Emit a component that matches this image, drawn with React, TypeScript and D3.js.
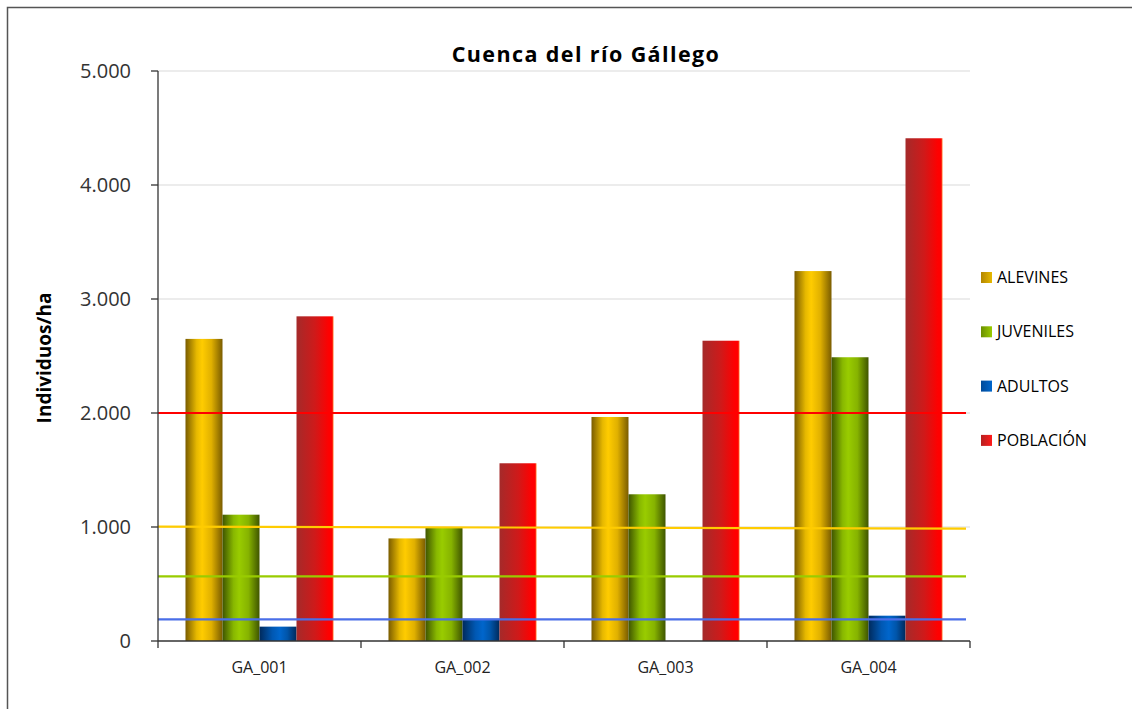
import React from "react";
import * as d3 from "d3";

const categories = ["GA_001", "GA_002", "GA_003", "GA_004"];
const seriesNames = ["ALEVINES", "JUVENILES", "ADULTOS", "POBLACIÓN"];
const alevines = [2650, 900, 1965, 3245];
const juveniles = [1108, 991, 1287, 2489];
const adultos = [126, 195, 0, 222];
const poblacion = [2848, 1559, 2634, 4410];
const yTicks = [0, 1000, 2000, 3000, 4000, 5000];
// reference lines: [startValue, endValue]
const refPoblacion = [2000, 2000];
const refAlevines = [1003, 986];
const refJuveniles = [567, 567];
const refAdultos = [190, 190];

const W = 1132, H = 709;
const left = 158, right = 970, top = 71, bottom = 641;

const gradStops: Record<string, [string, string][]> = {
  gAlev: [["0%", "#7a5c00"], ["30%", "#e6b800"], ["45%", "#ffcc00"], ["70%", "#e0b000"], ["100%", "#7a5c00"]],
  gJuv: [["0%", "#3f5500"], ["30%", "#88b800"], ["45%", "#99cc00"], ["70%", "#86b300"], ["100%", "#3f5500"]],
  gAdu: [["0%", "#002a5c"], ["35%", "#0058b3"], ["55%", "#0066cc"], ["75%", "#0055aa"], ["100%", "#002a5c"]],
  gPob: [["0%", "#a52a2a"], ["50%", "#cf1a1a"], ["88%", "#ff0000"], ["96%", "#ff0000"], ["100%", "#ff7a30"]],
};
const gradIds = ["gAlev", "gJuv", "gAdu", "gPob"];
const legendGrad: Record<string, [string, string][]> = {
  lAlev: [["0%", "#b38600"], ["100%", "#e6b800"]],
  lJuv: [["0%", "#6b8f00"], ["100%", "#99cc00"]],
  lAdu: [["0%", "#004a99"], ["100%", "#0066cc"]],
  lPob: [["0%", "#b52020"], ["100%", "#ff1a1a"]],
};
const legendIds = ["lAlev", "lJuv", "lAdu", "lPob"];

export default function App() {
  const y = d3.scaleLinear().domain([0, 5000]).range([bottom, top]);
  const x0 = d3.scaleBand().domain(categories).range([left, right]).paddingInner(0).paddingOuter(0);
  const x1 = d3.scaleBand().domain(seriesNames).range([0, x0.bandwidth()]).paddingInner(0).paddingOuter(0.743);
  const series = [alevines, juveniles, adultos, poblacion];
  const refs: [number[], string][] = [
    [refPoblacion, "#ff0000"],
    [refAlevines, "#ffcc00"],
    [refJuveniles, "#99cc00"],
    [refAdultos, "#4a6ee8"],
  ];
  const font = "'Open Sans', sans-serif";
  return (
    <svg width={W} height={H} style={{ position: "absolute", left: 0, top: 0 }} fontFamily={font}>
      <defs>
        {Object.entries(gradStops).map(([id, stops]) => (
          <linearGradient key={id} id={id} x1="0" x2="1" y1="0" y2="0">
            {stops.map(([o, c], i) => <stop key={i} offset={o} stopColor={c} />)}
          </linearGradient>
        ))}
        {Object.entries(legendGrad).map(([id, stops]) => (
          <linearGradient key={id} id={id} x1="0" x2="1" y1="0" y2="0">
            {stops.map(([o, c], i) => <stop key={i} offset={o} stopColor={c} />)}
          </linearGradient>
        ))}
      </defs>
      <rect x={0} y={0} width={W} height={H} fill="#fff" />
      <rect x={7.5} y={7.5} width={1300} height={900} fill="none" stroke="#555" strokeWidth={1.5} />
      <text x={586} y={62} textAnchor="middle" fontSize={21.5} fontWeight="bold" letterSpacing={1.4} fill="#000">Cuenca del río Gállego</text>
      {/* gridlines */}
      {yTicks.filter(t => t > 0).map(t => (
        <line key={t} x1={left} x2={right} y1={y(t)} y2={y(t)} stroke="#d9d9d9" strokeWidth={1} />
      ))}
      {/* bars */}
      {categories.map((c, ci) => (
        <g key={c}>
          {series.map((s, si) => s[ci] > 0 ? (
            <rect key={si} x={x0(c)! + x1(seriesNames[si])!} y={y(s[ci])} width={x1.bandwidth()} height={bottom - y(s[ci])} fill={`url(#${gradIds[si]})`} />
          ) : null)}
        </g>
      ))}
      {/* reference lines */}
      {refs.map(([v, col], i) => (
        <line key={i} x1={left} x2={right - 4} y1={y(v[0])} y2={y(v[1])} stroke={col} strokeWidth={2.2} />
      ))}
      {/* axes */}
      <line x1={left} x2={left} y1={top} y2={bottom} stroke="#333" strokeWidth={1.3} />
      {yTicks.map(t => (
        <g key={t}>
          <line x1={left - 7} x2={left} y1={y(t)} y2={y(t)} stroke="#333" strokeWidth={1.3} />
          <text x={131} y={y(t) + 7} textAnchor="end" fontSize={20} fill="#333">{d3.format(",")(t).replace(/,/g, ".")}</text>
        </g>
      ))}
      <line x1={left} x2={right} y1={bottom} y2={bottom} stroke="#333" strokeWidth={1.3} />
      {[...categories.map(c => x0(c)!), right].map((px, i) => (
        <line key={i} x1={px} x2={px} y1={bottom} y2={bottom + 7} stroke="#333" strokeWidth={1.3} />
      ))}
      {categories.map(c => (
        <text key={c} x={x0(c)! + x0.bandwidth() / 2} y={673} textAnchor="middle" fontSize={16} fill="#222">{c}</text>
      ))}
      <text transform={`translate(51,${358}) rotate(-90)`} textAnchor="middle" fontSize={19} fontWeight="bold" fill="#000">Individuos/ha</text>
      {/* legend */}
      {seriesNames.map((n, i) => (
        <g key={n} transform={`translate(980,${277 + i * 54.3})`}>
          <rect x={1} y={-5} width={11} height={11} fill={`url(#${legendIds[i]})`} />
          <text x={17} y={6} fontSize={16} fill="#000">{n}</text>
        </g>
      ))}
    </svg>
  );
}
